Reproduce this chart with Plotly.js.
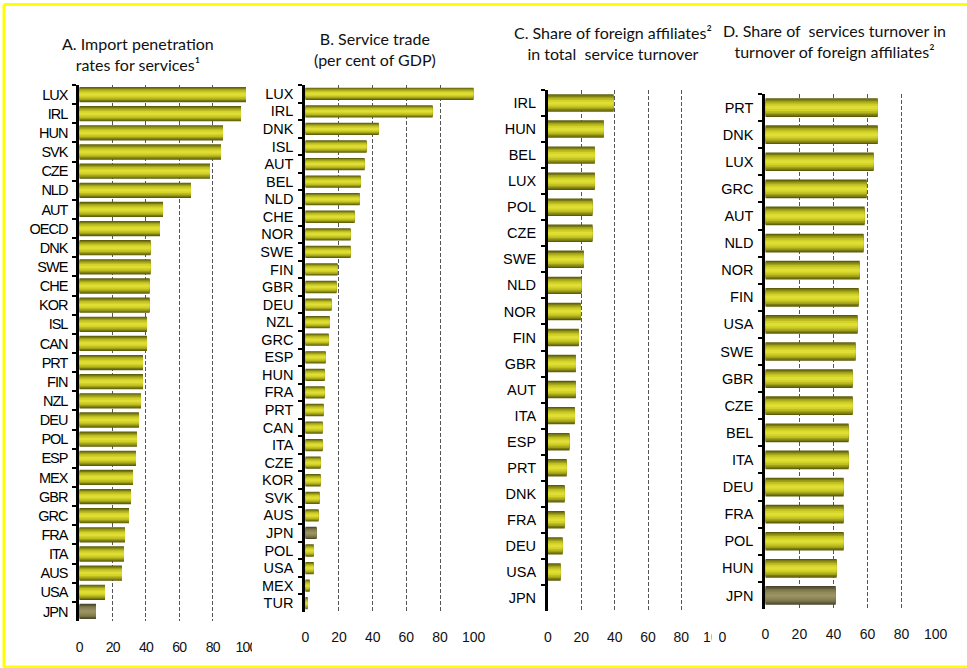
<!DOCTYPE html>
<html>
<head>
<meta charset="utf-8">
<script src="https://cdn.plot.ly/plotly-3.0.1.min.js"></script>
<style>
html,body{margin:0;padding:0;background:#fff;overflow:hidden;}
#chart .ytick text{letter-spacing:-1px;}
#chart .xtick text{letter-spacing:-0.8px;}
</style>
</head>
<body>
<div id="chart" style="width:967px;height:668px;"></div>
<script>
// ---- Data ----
var catsA = ["LUX","IRL","HUN","SVK","CZE","NLD","AUT","OECD","DNK","SWE","CHE","KOR","ISL","CAN","PRT","FIN","NZL","DEU","POL","ESP","MEX","GBR","GRC","FRA","ITA","AUS","USA","JPN"];
var valsA = [100,97,86.2,85,78.4,67,50.2,48.4,42.8,42.8,42.2,42.2,40.6,40.6,38.2,38.2,37,35.8,34.6,34,32.2,31,29.8,27.4,26.8,25.6,15.4,10];

var catsB = ["LUX","IRL","DNK","ISL","AUT","BEL","NLD","CHE","NOR","SWE","FIN","GBR","DEU","NZL","GRC","ESP","HUN","FRA","PRT","CAN","ITA","CZE","KOR","SVK","AUS","JPN","POL","USA","MEX","TUR"];
var valsB = [100,75.6,43.6,36.4,35.2,32.9,32.3,29.3,26.9,26.9,19.2,18.6,15.6,14.5,13.9,12.1,11.5,11.5,10.9,10.3,10.3,9.1,9.1,8.5,7.9,6.7,5.0,5.0,2.6,1.4];

var catsC = ["IRL","HUN","BEL","LUX","POL","CZE","SWE","NLD","NOR","FIN","GBR","AUT","ITA","ESP","PRT","DNK","FRA","DEU","USA","JPN"];
var valsC = [39.4,33.5,28.1,28.1,26.7,26.7,21.5,20.1,19.7,18.5,16.7,16.7,16.1,12.9,11.2,10,10,8.8,7.6,null];

var catsD = ["PRT","DNK","LUX","GRC","AUT","NLD","NOR","FIN","USA","SWE","GBR","CZE","BEL","ITA","DEU","FRA","POL","HUN","JPN"];
var valsD = [66,66,63.6,59.5,58.3,57.7,55.4,54.8,54.2,53,51.3,51.3,48.9,48.9,46,46,46,41.9,41.3];

var tickVals = [0,20,40,60,80,100];
var tickText = ["0","20","40","60","80","100"];

var titleA = "A. Import penetration<br>rates for services\u00b9";
var titleB = "B. Service trade<br>(per cent of GDP)";
var titleC = "C. Share of foreign affiliates\u00b2<br>in total  service turnover";
var titleD = "D. Share of  services turnover in<br>turnover of foreign affiliates\u00b2";

// ---- Styling ----
var W = 967, H = 668;
function px(p){ return p / W; }
function py(p){ return 1 - p / H; }

// gradient layers (fraction of bar thickness, normal colour, highlight colour)
var layers = [
  [1.00, "#5c5c0a", "#48442a"],
  [0.88, "#7a7a12", "#5e5838"],
  [0.72, "#a0a01a", "#767046"],
  [0.55, "#bebe22", "#878052"],
  [0.36, "#d2d228", "#928a5a"],
  [0.16, "#dede36", "#9a9262"]
];

var traces = [];
function addPanel(cats, vals, ax, thick) {
  layers.forEach(function(l){
    traces.push({
      type: "bar", orientation: "h",
      x: vals, y: cats,
      width: thick * l[0],
      marker: {color: cats.map(function(c){ return c === "JPN" ? l[2] : l[1]; }), line: {width: 0}},
      xaxis: "x" + (ax === 1 ? "" : ax), yaxis: "y" + (ax === 1 ? "" : ax),
      hoverinfo: "skip", showlegend: false
    });
  });
}
addPanel(catsA, valsA, 1, 0.80);
addPanel(catsB, valsB, 2, 0.70);
addPanel(catsC, valsC, 3, 0.67);
addPanel(catsD, valsD, 4, 0.69);

var tickFont = {family: "Liberation Sans, Arial, sans-serif", size: 14.5, color: "#000"};
var xFont = {family: "Liberation Sans, Arial, sans-serif", size: 14, color: "#111"};

function xAxis(l, r, anchor, standoff) {
  return {
    domain: [px(l), px(r)], range: [0, 100], anchor: anchor,
    tickvals: tickVals, ticktext: tickText,
    showgrid: true, gridcolor: "#555", gridwidth: 1, griddash: "4px,2px",
    zeroline: false, showline: false,
    ticks: "outside", ticklen: standoff, tickcolor: "rgba(0,0,0,0)",
    tickfont: xFont, automargin: false, fixedrange: true
  };
}
function yAxis(t, b, anchor, cats) {
  return {
    domain: [py(b), py(t)], anchor: anchor, type: "category",
    categoryorder: "array", categoryarray: cats, autorange: "reversed",
    showline: true, linecolor: "#000", linewidth: 3,
    ticks: "outside", tickson: "boundaries", ticklen: 4, tickwidth: 2, tickcolor: "#000",
    ticklabelstandoff: 6,
    showgrid: false, zeroline: false,
    tickfont: tickFont, automargin: false, fixedrange: true
  };
}

var titleFont = {family: "Lato, 'Open Sans', sans-serif", size: 16, color: "#111"};
function ann(text, x, y) {
  return {text: text, xref: "paper", yref: "paper", x: px(x), y: py(y),
          xanchor: "center", yanchor: "middle", showarrow: false, align: "center", font: titleFont};
}
function frameLine(x0, y0, x1, y1) {
  return {type: "line", xref: "paper", yref: "paper", x0: px(x0), y0: py(y0), x1: px(x1), y1: py(y1),
          line: {color: "#ffff00", width: 3}, layer: "above"};
}

var layout = {
  width: W, height: H,
  margin: {l: 0, r: 0, t: 0, b: 0},
  paper_bgcolor: "#fff", plot_bgcolor: "rgba(0,0,0,0)",
  barmode: "overlay", showlegend: false,
  xaxis:  xAxis(79.3, 246, "y", 13),
  yaxis:  yAxis(85, 621, "x", catsA),
  xaxis2: xAxis(305.3, 473.7, "y2", 12),
  yaxis2: yAxis(85, 612, "x2", catsB),
  xaxis3: xAxis(548, 714.7, "y3", 13),
  yaxis3: yAxis(90, 611, "x3", catsC),
  xaxis4: xAxis(765.3, 935.7, "y4", 12),
  yaxis4: yAxis(94, 609, "x4", catsD),
  annotations: [
    ann(titleA, 137.5, 53.5),
    ann(titleB, 375, 48.5),
    ann(titleC, 612.5, 43),
    ann(titleD, 834.5, 41)
  ],
  shapes: [
    // clipped areas where the next panel overlaps
    {type: "rect", xref: "paper", yref: "paper", x0: px(252), x1: px(259), y0: py(655), y1: py(625),
     fillcolor: "#fff", line: {width: 0}, layer: "above"},
    {type: "rect", xref: "paper", yref: "paper", x0: px(711.5), x1: px(719), y0: py(655), y1: py(80),
     fillcolor: "#fff", line: {width: 0}, layer: "above"},
    // yellow frame (top, left, bottom)
    frameLine(4, 4.5, 967, 4.5),
    frameLine(4, 4.5, 4, 667),
    frameLine(4, 667, 967, 667)
  ]
};

Plotly.newPlot("chart", traces, layout, {staticPlot: true, displayModeBar: false});
</script>
</body>
</html>
